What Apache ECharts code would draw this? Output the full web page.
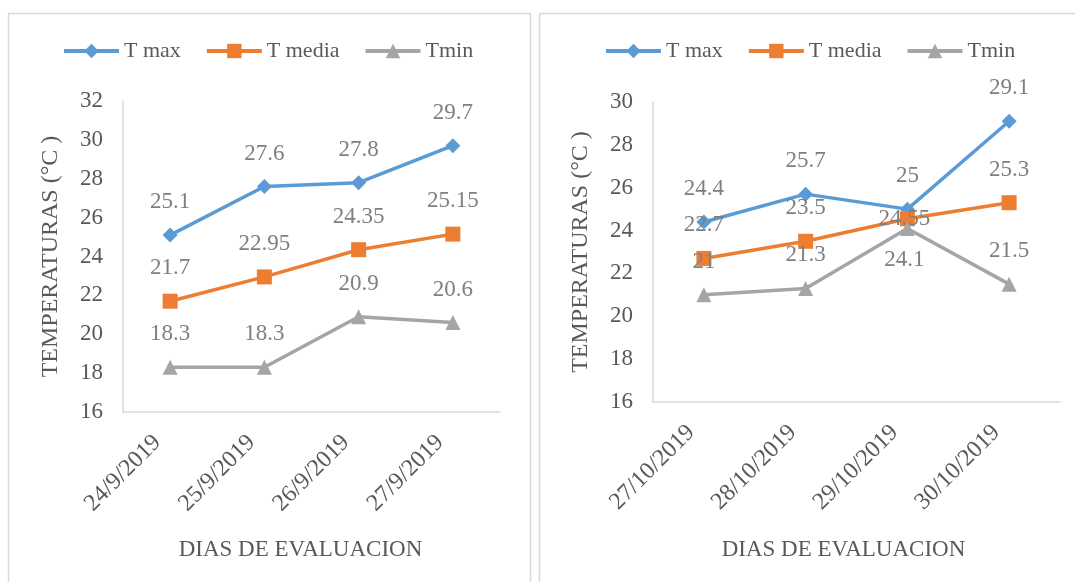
<!DOCTYPE html>
<html>
<head>
<meta charset="utf-8">
<script src="https://cdn.jsdelivr.net/npm/echarts@6/dist/echarts.min.js"></script>
<style>
  html, body { margin: 0; padding: 0; background: #ffffff; }
  #chart { width: 1075px; height: 582px; }
</style>
</head>
<body>
<div id="chart"></div>
<script>
// Periodo de septiembre
const diasSep = ['24/9/2019', '25/9/2019', '26/9/2019', '27/9/2019'];
const tMaxSep = [25.1, 27.6, 27.8, 29.7];
const tMediaSep = [21.7, 22.95, 24.35, 25.15];
const tMinSep = [18.3, 18.3, 20.9, 20.6];

// Periodo de octubre
const diasOct = ['27/10/2019', '28/10/2019', '29/10/2019', '30/10/2019'];
const tMaxOct = [24.4, 25.7, 25, 29.1];
const tMediaOct = [22.7, 23.5, 24.55, 25.3];
const tMinOct = [21, 21.3, 24.1, 21.5];

const seriesNames = ['T max', 'T media', 'Tmin'];
const ejeY = 'TEMPERATURAS (°C )';
const ejeX = 'DIAS DE EVALUACION';

const FONT = '"Liberation Serif", "Times New Roman", serif';
const TEXT_DARK = '#595959';
const TEXT_LABEL = '#7f7f7f';
const AXIS_LINE = '#d9d9d9';
const COLORS = ['#5b9bd5', '#ed7d31', '#a5a5a5'];
const SYMBOLS = ['diamond', 'rect', 'triangle'];
const SYMBOL_SIZES = [15, 15, 15];

// labels sit above each marker unless an offset is given for that point
function pointData(values, overrides) {
  return values.map((v, i) => {
    const o = overrides && overrides[i];
    if (!o) return v;
    return { value: v, label: { offset: o } };
  });
}

function makeSeries(grid, values, overridesList) {
  return values.map((vals, k) => ({
    name: seriesNames[k],
    type: 'line',
    xAxisIndex: grid,
    yAxisIndex: grid,
    data: pointData(vals, overridesList[k]),
    symbol: SYMBOLS[k],
    symbolSize: SYMBOL_SIZES[k],
    showAllSymbol: true,
    color: COLORS[k],
    lineStyle: { color: COLORS[k], width: 3.5 },
    itemStyle: { color: COLORS[k] },
    z: 3 + k,
    label: {
      show: true,
      position: 'inside',
      offset: [0, -33],
      color: TEXT_LABEL,
      fontFamily: FONT,
      fontSize: 23
    },
    emphasis: { disabled: true },
    animation: false
  }));
}

function xAxis(grid, cats, nameGap, padRight) {
  return {
    type: 'category',
    gridIndex: grid,
    data: cats,
    boundaryGap: true,
    axisLine: { show: true, lineStyle: { color: AXIS_LINE, width: 1.5 } },
    axisTick: { show: false },
    axisLabel: {
      rotate: 45,
      margin: 14,
      padding: [0, 18, 0, 0],
      color: TEXT_DARK,
      fontFamily: FONT,
      fontSize: 24,
      interval: 0
    },
    name: ejeX,
    nameLocation: 'middle',
    nameGap: nameGap,
    nameTextStyle: {
      color: TEXT_DARK,
      fontFamily: FONT,
      fontSize: 23,
      padding: [0, padRight, 0, 0]
    },
    splitLine: { show: false }
  };
}

function yAxis(grid, max) {
  return {
    type: 'value',
    gridIndex: grid,
    min: 16,
    max: max,
    interval: 2,
    axisLine: { show: true, lineStyle: { color: AXIS_LINE, width: 1.5 } },
    axisTick: { show: false },
    splitLine: { show: false },
    axisLabel: {
      margin: 20,
      color: TEXT_DARK,
      fontFamily: FONT,
      fontSize: 23
    },
    name: ejeY,
    nameLocation: 'middle',
    nameGap: 60,
    nameTextStyle: {
      color: TEXT_DARK,
      fontFamily: FONT,
      fontSize: 24
    }
  };
}

function legend(id, left) {
  return {
    id: id,
    left: left,
    top: 40,
    padding: 0,
    itemWidth: 55,
    itemHeight: 18,
    itemGap: 24,
    textStyle: { color: TEXT_DARK, fontFamily: FONT, fontSize: 22 },
    lineStyle: { width: 4 },
    data: seriesNames,
    selectedMode: false
  };
}

const chart = echarts.init(document.getElementById('chart'), null, { renderer: 'canvas' });

const option = {
  backgroundColor: '#ffffff',
  animation: false,
  graphic: [
    { type: 'rect', shape: { x: 8.5, y: 13.5, width: 522, height: 620 },
      style: { fill: 'none', stroke: '#d9d9d9', lineWidth: 1.5 }, silent: true, z: -1 },
    { type: 'rect', shape: { x: 539.5, y: 13.5, width: 620, height: 620 },
      style: { fill: 'none', stroke: '#d9d9d9', lineWidth: 1.5 }, silent: true, z: -1 }
  ],
  legend: [legend('leg0', 62), legend('leg1', 604)],
  grid: [
    { left: 123, top: 101, width: 377, height: 311 },
    { left: 653, top: 102, width: 407, height: 300 }
  ],
  xAxis: [xAxis(0, diasSep, 126, 22), xAxis(1, diasOct, 136, 26)],
  yAxis: [yAxis(0, 32), yAxis(1, 30)],
  series: [].concat(
    makeSeries(0, [tMaxSep, tMediaSep, tMinSep], [null, null, null]),
    makeSeries(1, [tMaxOct, tMediaOct, tMinOct], [
      null,
      { 2: [-3, 0] },
      { 2: [-3, 32] }
    ])
  )
};

chart.setOption(option);
</script>
</body>
</html>
